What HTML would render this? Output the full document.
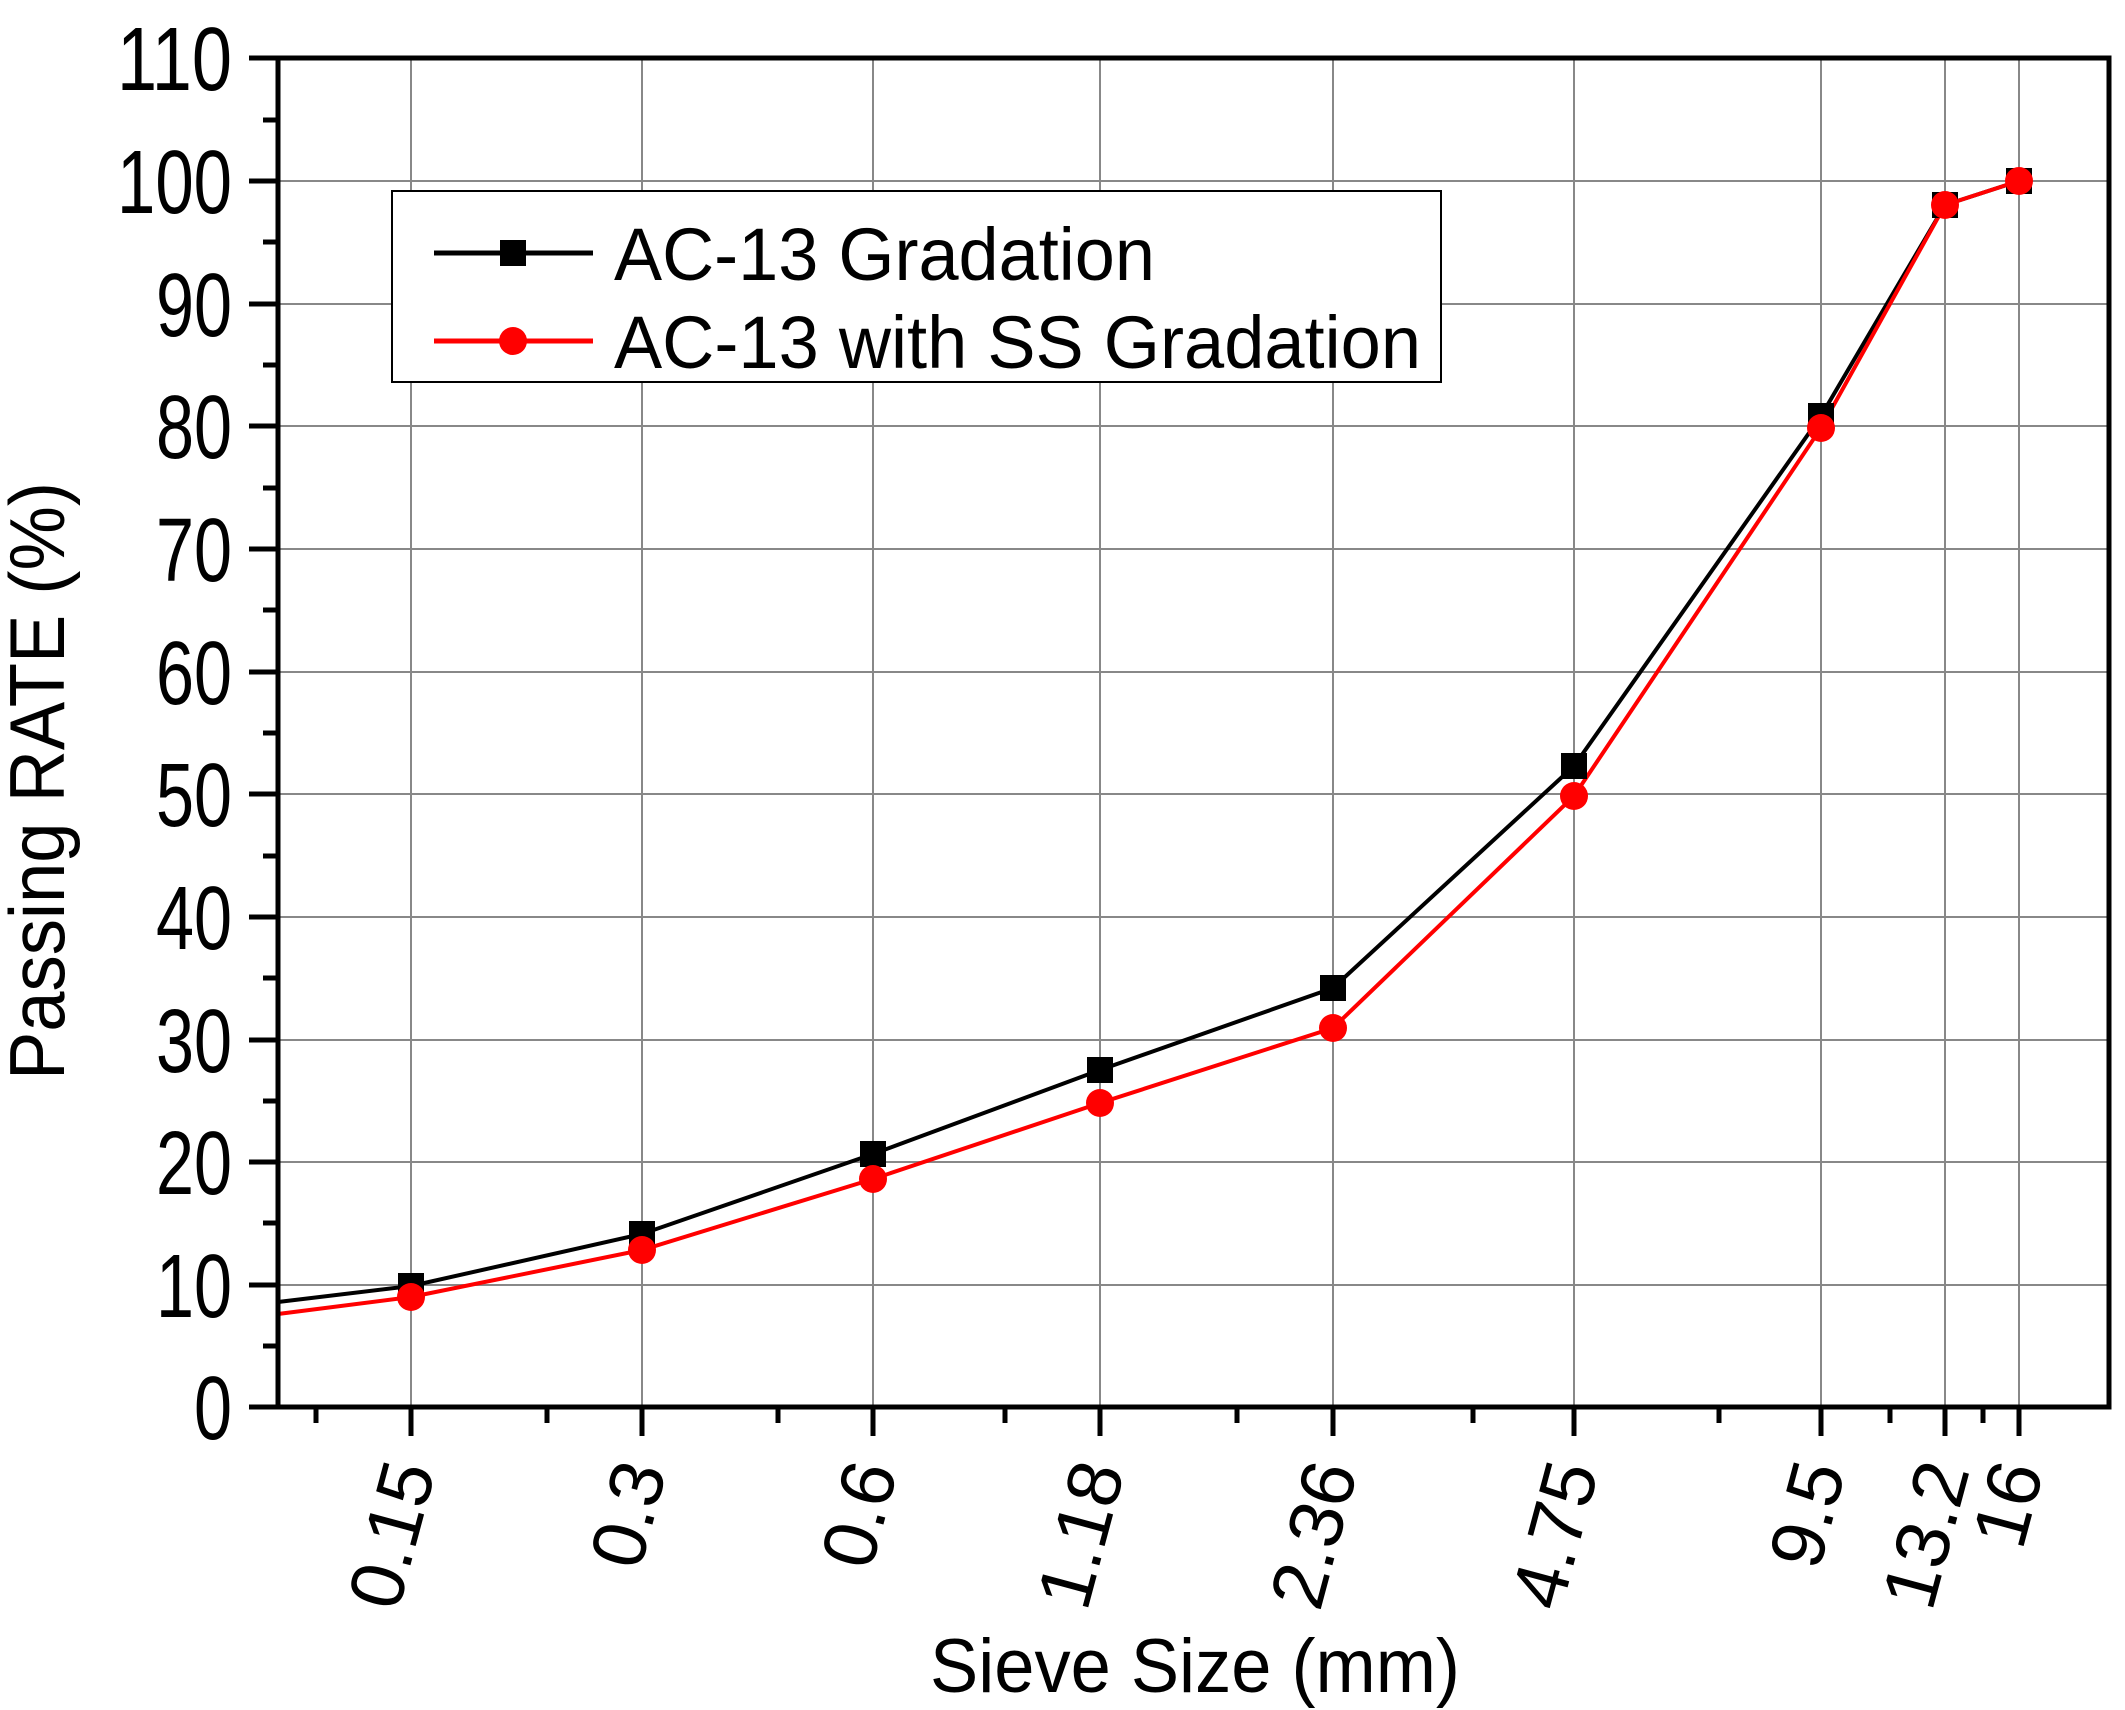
<!DOCTYPE html>
<html><head><meta charset="utf-8"><style>html,body{margin:0;padding:0;background:#fff}svg{display:block}text{font-family:"Liberation Sans",Arial,sans-serif;fill:#000}</style></head>
<body>
<svg width="2125" height="1710" viewBox="0 0 2125 1710" xmlns="http://www.w3.org/2000/svg">
<g stroke="#888" stroke-width="2">
<line x1="278" y1="181" x2="2109" y2="181"/><line x1="278" y1="304" x2="2109" y2="304"/><line x1="278" y1="426" x2="2109" y2="426"/><line x1="278" y1="549" x2="2109" y2="549"/><line x1="278" y1="672" x2="2109" y2="672"/><line x1="278" y1="794" x2="2109" y2="794"/><line x1="278" y1="917" x2="2109" y2="917"/><line x1="278" y1="1040" x2="2109" y2="1040"/><line x1="278" y1="1162" x2="2109" y2="1162"/><line x1="278" y1="1285" x2="2109" y2="1285"/>
<line x1="411" y1="58" x2="411" y2="1407"/><line x1="642" y1="58" x2="642" y2="1407"/><line x1="873" y1="58" x2="873" y2="1407"/><line x1="1100" y1="58" x2="1100" y2="1407"/><line x1="1333" y1="58" x2="1333" y2="1407"/><line x1="1574" y1="58" x2="1574" y2="1407"/><line x1="1821" y1="58" x2="1821" y2="1407"/><line x1="1945" y1="58" x2="1945" y2="1407"/><line x1="2019" y1="58" x2="2019" y2="1407"/>
</g>
<polyline fill="none" stroke="#000" stroke-width="4" points="278,1302 411,1286 642,1234 873,1154 1100,1070 1333,988 1574,766 1821,416 1945,205 2019,181"/>
<polyline fill="none" stroke="#f00" stroke-width="4" points="278,1314 411,1297 642,1250 873,1179 1100,1103 1333,1028 1574,796 1821,428 1945,205 2019,181"/>
<g fill="#000">
<rect x="398" y="1273" width="26" height="26"/><rect x="629" y="1221" width="26" height="26"/><rect x="860" y="1141" width="26" height="26"/><rect x="1087" y="1057" width="26" height="26"/><rect x="1320" y="975" width="26" height="26"/><rect x="1561" y="753" width="26" height="26"/><rect x="1808" y="403" width="26" height="26"/><rect x="1932" y="192" width="26" height="26"/><rect x="2006" y="168" width="26" height="26"/>
</g>
<g fill="#f00">
<circle cx="411" cy="1297" r="14"/><circle cx="642" cy="1250" r="14"/><circle cx="873" cy="1179" r="14"/><circle cx="1100" cy="1103" r="14"/><circle cx="1333" cy="1028" r="14"/><circle cx="1574" cy="796" r="14"/><circle cx="1821" cy="428" r="14"/><circle cx="1945" cy="205" r="14"/><circle cx="2019" cy="181" r="14"/>
</g>
<rect x="278" y="58" width="1831" height="1349" fill="none" stroke="#000" stroke-width="5"/>
<g stroke="#000" stroke-width="5">
<line x1="249" y1="58" x2="278" y2="58"/><line x1="249" y1="181" x2="278" y2="181"/><line x1="249" y1="304" x2="278" y2="304"/><line x1="249" y1="426" x2="278" y2="426"/><line x1="249" y1="549" x2="278" y2="549"/><line x1="249" y1="672" x2="278" y2="672"/><line x1="249" y1="794" x2="278" y2="794"/><line x1="249" y1="917" x2="278" y2="917"/><line x1="249" y1="1040" x2="278" y2="1040"/><line x1="249" y1="1162" x2="278" y2="1162"/><line x1="249" y1="1285" x2="278" y2="1285"/><line x1="249" y1="1407" x2="278" y2="1407"/>
<line x1="263" y1="120" x2="278" y2="120"/><line x1="263" y1="242" x2="278" y2="242"/><line x1="263" y1="365" x2="278" y2="365"/><line x1="263" y1="488" x2="278" y2="488"/><line x1="263" y1="610" x2="278" y2="610"/><line x1="263" y1="733" x2="278" y2="733"/><line x1="263" y1="856" x2="278" y2="856"/><line x1="263" y1="978" x2="278" y2="978"/><line x1="263" y1="1101" x2="278" y2="1101"/><line x1="263" y1="1223" x2="278" y2="1223"/><line x1="263" y1="1346" x2="278" y2="1346"/>
<line x1="411" y1="1407" x2="411" y2="1436"/><line x1="642" y1="1407" x2="642" y2="1436"/><line x1="873" y1="1407" x2="873" y2="1436"/><line x1="1100" y1="1407" x2="1100" y2="1436"/><line x1="1333" y1="1407" x2="1333" y2="1436"/><line x1="1574" y1="1407" x2="1574" y2="1436"/><line x1="1821" y1="1407" x2="1821" y2="1436"/><line x1="1945" y1="1407" x2="1945" y2="1436"/><line x1="2019" y1="1407" x2="2019" y2="1436"/>
<line x1="316" y1="1407" x2="316" y2="1423"/><line x1="547" y1="1407" x2="547" y2="1423"/><line x1="778" y1="1407" x2="778" y2="1423"/><line x1="1005" y1="1407" x2="1005" y2="1423"/><line x1="1237" y1="1407" x2="1237" y2="1423"/><line x1="1473" y1="1407" x2="1473" y2="1423"/><line x1="1719" y1="1407" x2="1719" y2="1423"/><line x1="1890" y1="1407" x2="1890" y2="1423"/><line x1="1983" y1="1407" x2="1983" y2="1423"/>
</g>
<g font-size="90" text-anchor="end" lengthAdjust="spacingAndGlyphs">
<text x="232" y="90" textLength="115" lengthAdjust="spacingAndGlyphs">110</text><text x="232" y="213" textLength="115" lengthAdjust="spacingAndGlyphs">100</text><text x="232" y="336" textLength="76" lengthAdjust="spacingAndGlyphs">90</text><text x="232" y="458" textLength="76" lengthAdjust="spacingAndGlyphs">80</text><text x="232" y="581" textLength="76" lengthAdjust="spacingAndGlyphs">70</text><text x="232" y="704" textLength="76" lengthAdjust="spacingAndGlyphs">60</text><text x="232" y="826" textLength="76" lengthAdjust="spacingAndGlyphs">50</text><text x="232" y="949" textLength="76" lengthAdjust="spacingAndGlyphs">40</text><text x="232" y="1072" textLength="76" lengthAdjust="spacingAndGlyphs">30</text><text x="232" y="1194" textLength="76" lengthAdjust="spacingAndGlyphs">20</text><text x="232" y="1317" textLength="76" lengthAdjust="spacingAndGlyphs">10</text><text x="232" y="1439" textLength="38" lengthAdjust="spacingAndGlyphs">0</text>
</g>
<g font-size="76" text-anchor="end">
<text transform="translate(436,1470) rotate(-75)">0.15</text>
<text transform="translate(667,1470) rotate(-75)">0.3</text>
<text transform="translate(898,1470) rotate(-75)">0.6</text>
<text transform="translate(1125,1470) rotate(-75)">1.18</text>
<text transform="translate(1358,1470) rotate(-75)">2.36</text>
<text transform="translate(1599,1470) rotate(-75)">4.75</text>
<text transform="translate(1846,1470) rotate(-75)">9.5</text>
<text transform="translate(1970,1470) rotate(-75)">13.2</text>
<text transform="translate(2044,1470) rotate(-75)">16</text>
</g>
<text x="930" y="1692" font-size="76" textLength="530" lengthAdjust="spacingAndGlyphs">Sieve Size (mm)</text>
<text transform="translate(64,1080) rotate(-90)" font-size="78" textLength="598" lengthAdjust="spacingAndGlyphs">Passing RATE (%)</text>
<rect x="392" y="191" width="1049" height="191" fill="#fff" stroke="#000" stroke-width="2"/>
<line x1="434" y1="253" x2="593" y2="253" stroke="#000" stroke-width="5"/>
<rect x="500" y="240" width="26" height="26" fill="#000"/>
<line x1="434" y1="341" x2="593" y2="341" stroke="#f00" stroke-width="5"/>
<circle cx="513" cy="341" r="14" fill="#f00"/>
<text x="614" y="280" font-size="74" textLength="541" lengthAdjust="spacingAndGlyphs">AC-13 Gradation</text>
<text x="614" y="368" font-size="74" textLength="807" lengthAdjust="spacingAndGlyphs">AC-13 with SS Gradation</text>
</svg>
</body></html>
